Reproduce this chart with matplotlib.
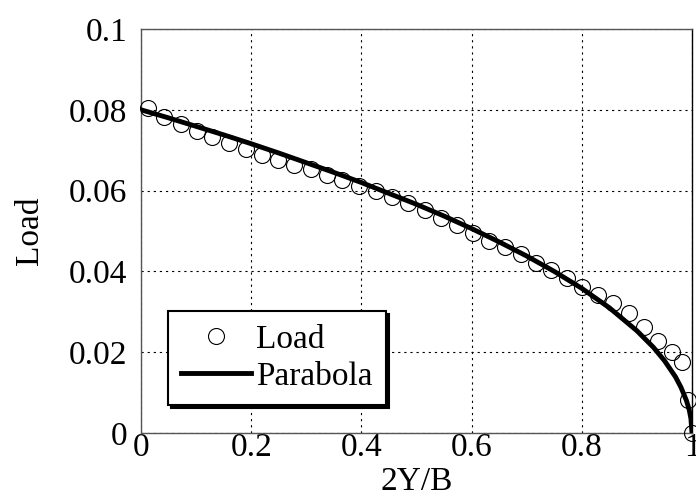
import matplotlib
matplotlib.use('Agg')
import matplotlib.pyplot as plt

# spanwise stations (2Y/B) and load
span = [0.013, 0.042, 0.073, 0.102, 0.129, 0.160, 0.191, 0.220, 0.249, 0.278,
        0.309, 0.338, 0.365, 0.396, 0.427, 0.456, 0.485, 0.515, 0.544, 0.573,
        0.602, 0.631, 0.660, 0.689, 0.716, 0.745, 0.773, 0.800, 0.829, 0.856,
        0.885, 0.913, 0.938, 0.964, 0.982, 0.993, 1.0]
load = [0.0804, 0.0782, 0.0765, 0.0748, 0.0733, 0.0718, 0.0703, 0.0688, 0.0676, 0.0663,
        0.0653, 0.0639, 0.0626, 0.0611, 0.0599, 0.0584, 0.0569, 0.0552, 0.0532, 0.0515,
        0.0495, 0.0475, 0.0460, 0.0443, 0.0421, 0.0403, 0.0384, 0.0361, 0.0342, 0.0322,
        0.0297, 0.0262, 0.0228, 0.0200, 0.0176, 0.0082, 0.0]

# parabola curve
para_x = [0, 0.05, 0.1, 0.15, 0.2, 0.25, 0.3, 0.35, 0.4, 0.45, 0.5, 0.55, 0.6,
          0.65, 0.7, 0.75, 0.8, 0.85, 0.9, 0.93, 0.95, 0.97, 0.98, 0.99, 0.995,
          0.998, 1.0]
para_y = [0.0800, 0.0780, 0.0759, 0.0738, 0.0716, 0.0693, 0.0669, 0.0645, 0.0620,
          0.0593, 0.0566, 0.0537, 0.0506, 0.0473, 0.0438, 0.0400, 0.0358, 0.0310,
          0.0253, 0.0212, 0.0179, 0.0139, 0.0113, 0.0080, 0.0057, 0.0036, 0.0]

xticks = [0, 0.2, 0.4, 0.6, 0.8, 1.0]
xlabels = ['0', '0.2', '0.4', '0.6', '0.8', '1']
yticks = [0, 0.02, 0.04, 0.06, 0.08, 0.1]
ylabels = ['0', '0.02', '0.04', '0.06', '0.08', '0.1']

plt.rcParams['font.family'] = ['Liberation Serif', 'DejaVu Serif']
fs = 24

fig = plt.figure(figsize=(6.96, 5), dpi=100)
ax = fig.add_axes([141/696, 67/500, 551/696, 404/500])

ax.plot(span, load, 'o', mfc='none', mec='k', ms=11.5, mew=0.8,
        label='Load', zorder=3, clip_on=False)
ax.plot(para_x, para_y, '-', color='k', lw=3.5, label='Parabola', zorder=4)

ax.set_xlim(0, 1)
ax.set_ylim(0, 0.1)
ax.set_xticks(xticks)
ax.set_xticklabels(xlabels)
ax.set_yticks(yticks)
ax.set_yticklabels(ylabels)
ax.tick_params(length=0, labelsize=fs)
ax.tick_params(axis='y', pad=10)
ax.tick_params(axis='x', pad=0)
ax.grid(True, color='k', lw=0.8, linestyle=(0, (2, 3.5)))

for side in ['left', 'top', 'bottom']:
    ax.spines[side].set_color('#555555')
    ax.spines[side].set_linewidth(1.0)
ax.spines['right'].set_color('k')
ax.spines['right'].set_linewidth(1.0)

ax.set_xlabel('2Y/B', fontsize=fs, labelpad=2)
ax.set_ylabel('Load', fontsize=fs, labelpad=17)

leg = ax.legend(loc='lower left', bbox_to_anchor=(0.049, 0.069), borderaxespad=0,
                fontsize=fs, fancybox=False, framealpha=1, edgecolor='k',
                shadow={'color': 'k', 'alpha': 1}, handlelength=2.1,
                handletextpad=0.15, labelspacing=0.2, borderpad=0.4)
leg.get_frame().set_linewidth(1.5)

fig.savefig('out.png', dpi=100)
